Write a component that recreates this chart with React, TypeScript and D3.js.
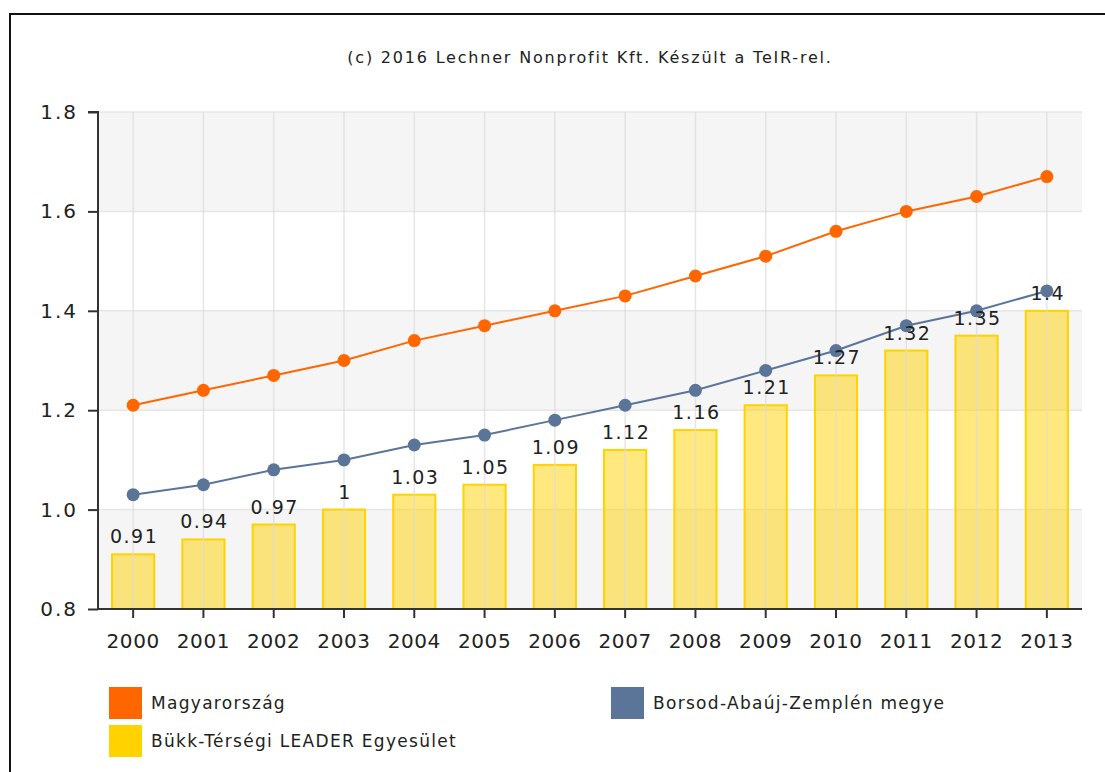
import { useRef, useEffect } from "react";
import * as d3 from "d3";

const years = ["2000", "2001", "2002", "2003", "2004", "2005", "2006", "2007", "2008", "2009", "2010", "2011", "2012", "2013"];
const magyarorszag = [1.21, 1.24, 1.27, 1.3, 1.34, 1.37, 1.4, 1.43, 1.47, 1.51, 1.56, 1.6, 1.63, 1.67];
const borsod = [1.03, 1.05, 1.08, 1.1, 1.13, 1.15, 1.18, 1.21, 1.24, 1.28, 1.32, 1.37, 1.4, 1.44];
const bukk = [0.91, 0.94, 0.97, 1, 1.03, 1.05, 1.09, 1.12, 1.16, 1.21, 1.27, 1.32, 1.35, 1.4];
const yTicks = [0.8, 1.0, 1.2, 1.4, 1.6, 1.8];
const seriesNames = ["Magyarország", "Borsod-Abaúj-Zemplén megye", "Bükk-Térségi LEADER Egyesület"];
const title = "(c) 2016 Lechner Nonprofit Kft. Készült a TeIR-rel.";

const App = () => {
  const ref = useRef<SVGSVGElement | null>(null);

  useEffect(() => {
    if (!ref.current) return;
    const svg = d3.select(ref.current);
    svg.selectAll("*").remove();

    const left = 98;
    const right = 1082;
    const top = 112;
    const bottom = 609;
    const font = "DejaVu Sans, Verdana, sans-serif";

    const x = d3.scaleBand().domain(years).range([left, right]).padding(0);
    const y = d3.scaleLinear().domain([0.8, 1.8]).range([bottom, top]);
    const cx = (d: string) => (x(d) as number) + x.bandwidth() / 2;

    // frame
    svg.append("path")
      .attr("d", `M10,772 L10,14 L1105,14`)
      .attr("fill", "none")
      .attr("stroke", "#111")
      .attr("stroke-width", 2);

    svg.append("text")
      .attr("x", 590)
      .attr("y", 63)
      .attr("text-anchor", "middle")
      .attr("font-family", font)
      .attr("font-size", 16)
      .attr("letter-spacing", 1.8)
      .attr("fill", "#222")
      .text(title);

    // alternating bands
    const bands = svg.append("g");
    for (let i = 0; i < yTicks.length - 1; i++) {
      if ((yTicks.length - 2 - i) % 2 === 0) {
        bands.append("rect")
          .attr("x", left)
          .attr("y", y(yTicks[i + 1]))
          .attr("width", right - left)
          .attr("height", y(yTicks[i]) - y(yTicks[i + 1]))
          .attr("fill", "#f5f5f5");
      }
    }

    // grid
    svg.append("g")
      .selectAll("line")
      .data(yTicks.slice(1))
      .join("line")
      .attr("x1", left)
      .attr("x2", right)
      .attr("y1", (d) => y(d))
      .attr("y2", (d) => y(d))
      .attr("stroke", "#e6e6e6")
      .attr("stroke-width", 1.5);

    // bars
    const barW = x.bandwidth() * 0.6;
    svg.append("g")
      .selectAll("rect")
      .data(bukk)
      .join("rect")
      .attr("x", (d, i) => cx(years[i]) - barW / 2)
      .attr("y", (d) => y(d))
      .attr("width", barW)
      .attr("height", (d) => bottom - y(d))
      .attr("fill", "#ffd200")
      .attr("fill-opacity", 0.5)
      .attr("stroke", "#ffd200")
      .attr("stroke-width", 2);

    svg.append("g")
      .selectAll("line")
      .data(years)
      .join("line")
      .attr("x1", (d) => cx(d))
      .attr("x2", (d) => cx(d))
      .attr("y1", top)
      .attr("y2", bottom)
      .attr("stroke", "#dcdcdc")
      .attr("stroke-opacity", 0.7)
      .attr("stroke-width", 1.5);

    // lines
    const lines: [number[], string][] = [
      [magyarorszag, "#ff6600"],
      [borsod, "#5b7599"],
    ];
    lines.forEach(([vals, color]) => {
      const line = d3.line<number>()
        .x((d, i) => cx(years[i]))
        .y((d) => y(d));
      svg.append("path")
        .datum(vals)
        .attr("d", line)
        .attr("fill", "none")
        .attr("stroke", color)
        .attr("stroke-width", 2);
      svg.append("g")
        .selectAll("circle")
        .data(vals)
        .join("circle")
        .attr("cx", (d, i) => cx(years[i]))
        .attr("cy", (d) => y(d))
        .attr("r", 6.5)
        .attr("fill", color);
    });

    // bar labels
    svg.append("g")
      .selectAll("text")
      .data(bukk)
      .join("text")
      .attr("x", (d, i) => cx(years[i]) + 1)
      .attr("y", (d) => y(d) - 11)
      .attr("text-anchor", "middle")
      .attr("font-family", font)
      .attr("font-size", 19)
      .attr("letter-spacing", 1.5)
      .attr("fill", "#222")
      .text((d) => String(d));

    // axes
    const yAxis = d3.axisLeft(y).tickValues(yTicks).tickFormat(d3.format(".1f")).tickSize(10).tickPadding(10);
    const yg = svg.append("g").attr("transform", `translate(${left},0)`).call(yAxis);
    yg.select(".domain").attr("stroke", "#333").attr("stroke-width", 2).attr("d", `M-10,${top}H0V${bottom}`);
    yg.selectAll(".tick line").attr("stroke", "#333").attr("stroke-width", 2);
    yg.selectAll(".tick text").attr("font-family", font).attr("font-size", 20).attr("letter-spacing", 2).attr("fill", "#222");

    const xAxis = d3.axisBottom(x).tickSize(9).tickPadding(16);
    const xg = svg.append("g").attr("transform", `translate(0,${bottom})`).call(xAxis);
    xg.select(".domain").attr("stroke", "#333").attr("stroke-width", 2).attr("d", `M${left},0H${right}`);
    xg.selectAll(".tick line").attr("stroke", "#333").attr("stroke-width", 2);
    xg.selectAll(".tick text").attr("font-family", font).attr("font-size", 20).attr("letter-spacing", 0.6).attr("fill", "#222");

    // legend
    const legend = [
      { name: seriesNames[0], color: "#ff6600", x: 109, y: 687 },
      { name: seriesNames[1], color: "#5b7599", x: 611, y: 687 },
      { name: seriesNames[2], color: "#ffd200", x: 109, y: 725 },
    ];
    const lg = svg.append("g").selectAll("g").data(legend).join("g")
      .attr("transform", (d) => `translate(${d.x},${d.y})`);
    lg.append("rect")
      .attr("width", 33)
      .attr("height", 32)
      .attr("fill", (d) => d.color);
    lg.append("text")
      .attr("x", 42)
      .attr("y", 22)
      .attr("font-family", font)
      .attr("font-size", 17)
      .attr("letter-spacing", 1.3)
      .attr("fill", "#222")
      .text((d) => d.name);
  }, []);

  return (
    <svg
      ref={ref}
      width={1105}
      height={772}
      style={{ position: "absolute", left: 0, top: 0, background: "#fff" }}
    />
  );
};

export default App;
